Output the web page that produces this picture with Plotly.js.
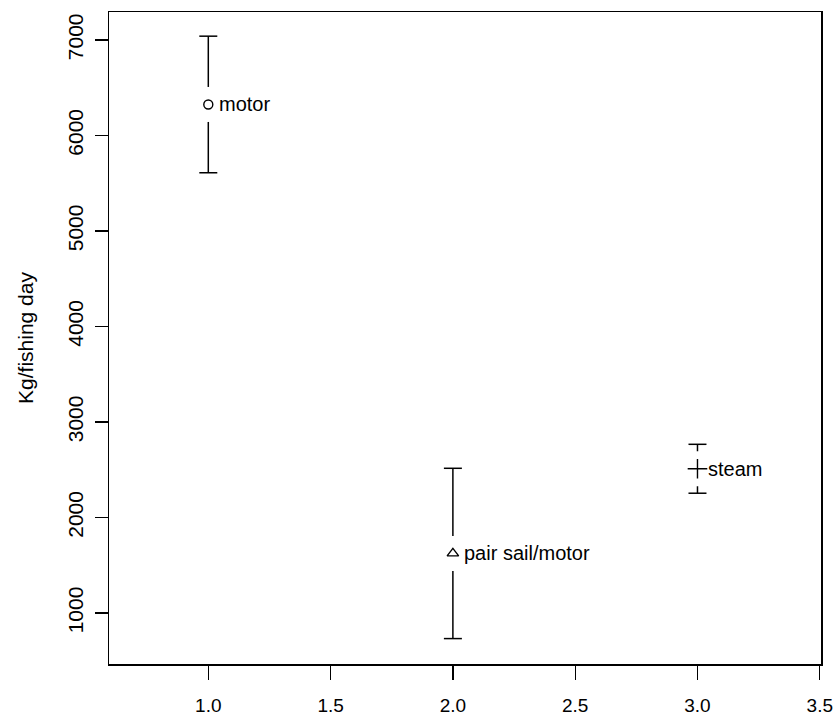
<!DOCTYPE html>
<html>
<head>
<meta charset="utf-8">
<script src="https://cdn.plot.ly/plotly-3.0.1.min.js"></script>
<style>html,body{margin:0;padding:0;background:#fff;}#chart{width:839px;height:718px;}</style>
</head>
<body>
<div id="chart"></div>
<script>
// Data
var gearTypes = ["motor", "pair sail/motor", "steam"];
var xPos = [1, 2, 3];
var meanCatch = [6325, 1625, 2511];
var lowerCI = [5610, 733, 2255];
var upperCI = [7040, 2516, 2767];
var markerSymbols = ["circle-open", "triangle-up-open", "cross-thin-open"];
var markerSizes = [9, 10, 14];

var xTickVals = [1.0, 1.5, 2.0, 2.5, 3.0, 3.5];
var xTickText = ["1.0", "1.5", "2.0", "2.5", "3.0", "3.5"];
var yTickVals = [1000, 2000, 3000, 4000, 5000, 6000, 7000];
var yTickText = ["1000", "2000", "3000", "4000", "5000", "6000", "7000"];

var W = 839, H = 718;
var margin = {l: 109, r: 18, t: 12, b: 54};
var xRange = [0.594, 3.505];
var yRange = [467, 7293];

var plotW = W - margin.l - margin.r;
var plotH = H - margin.t - margin.b;
var gapPx = 17.5, capPx = 9;
var gapY = gapPx * (yRange[1] - yRange[0]) / plotH;
var capX = capPx * (xRange[1] - xRange[0]) / plotW;

var lineStyle = {color: "#000", width: 1.5};
var traces = [];
var annotations = [];
for (var i = 0; i < xPos.length; i++) {
  var x = xPos[i], m = meanCatch[i], lo = lowerCI[i], hi = upperCI[i];
  var segX = [], segY = [];
  if (hi > m + gapY) { segX.push(x, x, null); segY.push(hi, m + gapY, null); }
  if (lo < m - gapY) { segX.push(x, x, null); segY.push(m - gapY, lo, null); }
  segX.push(x - capX, x + capX, null, x - capX, x + capX);
  segY.push(hi, hi, null, lo, lo);
  traces.push({x: segX, y: segY, mode: "lines", line: lineStyle, hoverinfo: "skip", showlegend: false, cliponaxis: false});
  traces.push({
    x: [x], y: [m], mode: "markers", showlegend: false,
    marker: {symbol: markerSymbols[i], size: markerSizes[i], color: "#000", line: {color: "#000", width: 1.4}}
  });
  annotations.push({
    x: x, y: m, xref: "x", yref: "y", text: gearTypes[i], showarrow: false,
    xanchor: "left", yanchor: "middle", xshift: 9, yshift: 0,
    font: {family: "Liberation Sans, Arial, sans-serif", size: 20, color: "#000"}
  });
}

var layout = {
  width: W, height: H,
  margin: margin,
  paper_bgcolor: "#fff", plot_bgcolor: "#fff",
  font: {family: "Liberation Sans, Arial, sans-serif", size: 19, color: "#000"},
  showlegend: false,
  xaxis: {
    range: xRange, tickvals: xTickVals, ticktext: xTickText,
    showgrid: false, zeroline: false, showline: true, mirror: true,
    linecolor: "#000", linewidth: 1.5, ticks: "outside", ticklen: 14, tickwidth: 1.3, tickcolor: "#000",
    tickfont: {size: 19}, ticklabelstandoff: 10
  },
  yaxis: {
    range: yRange, tickvals: yTickVals, ticktext: yTickText, tickangle: -90,
    showgrid: false, zeroline: false, showline: true, mirror: true,
    linecolor: "#000", linewidth: 1.5, ticks: "outside", ticklen: 13, tickwidth: 1.3, tickcolor: "#000",
    tickfont: {size: 21}, ticklabelstandoff: 3,
    title: {text: "Kg/fishing day", font: {size: 21}, standoff: 24}
  },
  annotations: annotations
};

Plotly.newPlot("chart", traces, layout, {staticPlot: true, displayModeBar: false});
</script>
</body>
</html>
